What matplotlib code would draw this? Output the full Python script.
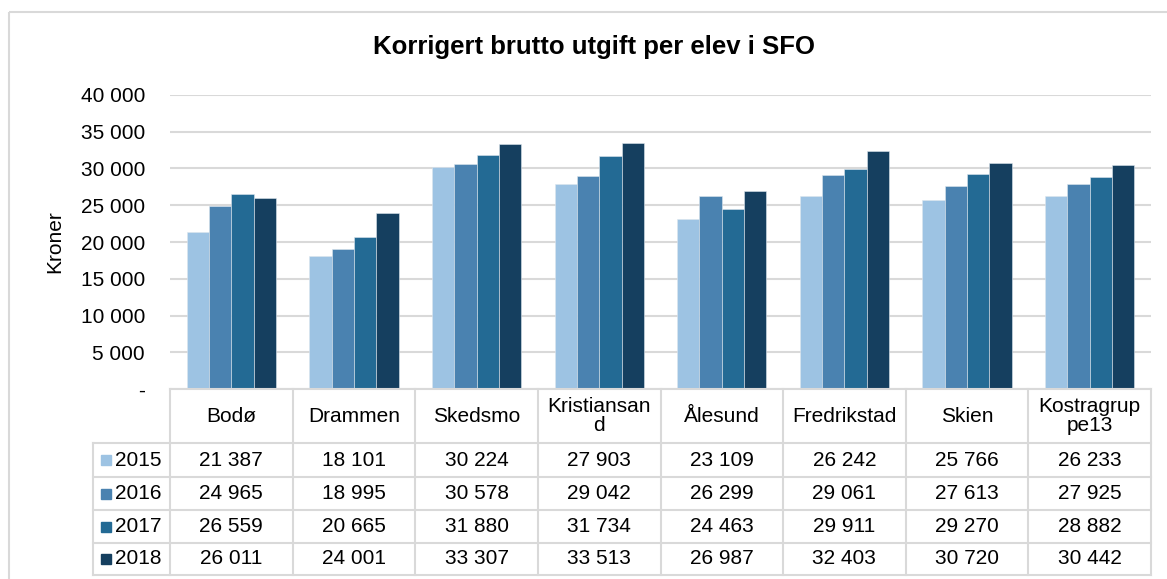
import numpy as np
import matplotlib.pyplot as plt
from matplotlib.patches import Rectangle

# =========================
# Data
# =========================
kommuner = ["Bodø", "Drammen", "Skedsmo", "Kristiansand", "Ålesund",
            "Fredrikstad", "Skien", "Kostragruppe13"]
header_labels = ["Bodø", "Drammen", "Skedsmo", "Kristiansan\nd", "Ålesund",
                 "Fredrikstad", "Skien", "Kostragrup\npe13"]
years = ["2015", "2016", "2017", "2018"]
v2015 = [21387, 18101, 30224, 27903, 23109, 26242, 25766, 26233]
v2016 = [24965, 18995, 30578, 29042, 26299, 29061, 27613, 27925]
v2017 = [26559, 20665, 31880, 31734, 24463, 29911, 29270, 28882]
v2018 = [26011, 24001, 33307, 33513, 26987, 32403, 30720, 30442]
series = [v2015, v2016, v2017, v2018]
colors = ["#9DC3E3", "#4A82B0", "#236A94", "#153F5F"]
yticks = [0, 5000, 10000, 15000, 20000, 25000, 30000, 35000, 40000]

plt.rcParams["font.family"] = ["Liberation Sans", "DejaVu Sans"]

W, H = 1167, 579
fig = plt.figure(figsize=(W / 100, H / 100), dpi=100)

def fmt(v):
    return "-" if v == 0 else f"{v:,}".replace(",", " ")

# =========================
# Bar chart
# =========================
px_left, px_right, px_top, px_bottom = 170, 1151, 95, 389
ax = fig.add_axes([px_left / W, 1 - px_bottom / H,
                   (px_right - px_left) / W, (px_bottom - px_top) / H])
x = np.arange(len(kommuner))
bw = 0.182
for i, (vals, c) in enumerate(zip(series, colors)):
    ax.bar(x + (i - 1.5) * bw, vals, bw, color=c, edgecolor="#DDE6EE",
           linewidth=0.4, zorder=3)
ax.set_xlim(-0.5, len(kommuner) - 0.5)
ax.set_ylim(0, 40000)
ax.set_yticks(yticks)
ax.set_yticklabels([fmt(t) for t in yticks], fontsize=15)
ax.set_xticks([])
ax.tick_params(axis="y", length=0, pad=18)
ax.grid(axis="y", color="#D9D9D9", linewidth=1.5, zorder=0)
for s in ax.spines.values():
    s.set_visible(False)
ax.set_ylabel("Kroner", fontsize=15)
ax.yaxis.set_label_coords(-0.108, 0.5)

fig.text(594 / W, 1 - 47 / H, "Korrigert brutto utgift per elev i SFO",
         ha="center", va="center", fontsize=18.5, fontweight="bold")

# =========================
# Data table underneath
# =========================
tab = fig.add_axes([0, 0, 1, 1])
tab.set_xlim(0, W)
tab.set_ylim(H, 0)
tab.axis("off")

grid_c = "#D9D9D9"
lw = 1.5
leg_left = 93
col_w = (px_right - px_left) / len(kommuner)
row_y = [389, 443, 477, 510, 543, 575]

# header row lines
tab.plot([px_left, px_right], [row_y[0], row_y[0]], color=grid_c, lw=lw)
for r in row_y[1:]:
    tab.plot([leg_left, px_right], [r, r], color=grid_c, lw=lw)
for j in range(len(kommuner) + 1):
    xx = px_left + j * col_w
    tab.plot([xx, xx], [row_y[0], row_y[-1]], color=grid_c, lw=lw)
tab.plot([leg_left, leg_left], [row_y[1], row_y[-1]], color=grid_c, lw=lw)

for j, lab in enumerate(header_labels):
    tab.text(px_left + (j + 0.5) * col_w, (row_y[0] + row_y[1]) / 2, lab,
             ha="center", va="center", fontsize=15, linespacing=1.0)

for i, (yr, vals, c) in enumerate(zip(years, series, colors)):
    yc = (row_y[i + 1] + row_y[i + 2]) / 2
    tab.add_patch(Rectangle((101, yc - 5), 10, 10, color=c))
    tab.text(115, yc, yr, ha="left", va="center", fontsize=15)
    for j, v in enumerate(vals):
        tab.text(px_left + (j + 0.5) * col_w, yc, fmt(v),
                 ha="center", va="center", fontsize=15)

# outer chart border
tab.add_patch(Rectangle((8.5, 11.5), W + 20, H + 20, fill=False,
                        edgecolor="#D9D9D9", lw=1.5))

fig.savefig("out.png", dpi=100)
